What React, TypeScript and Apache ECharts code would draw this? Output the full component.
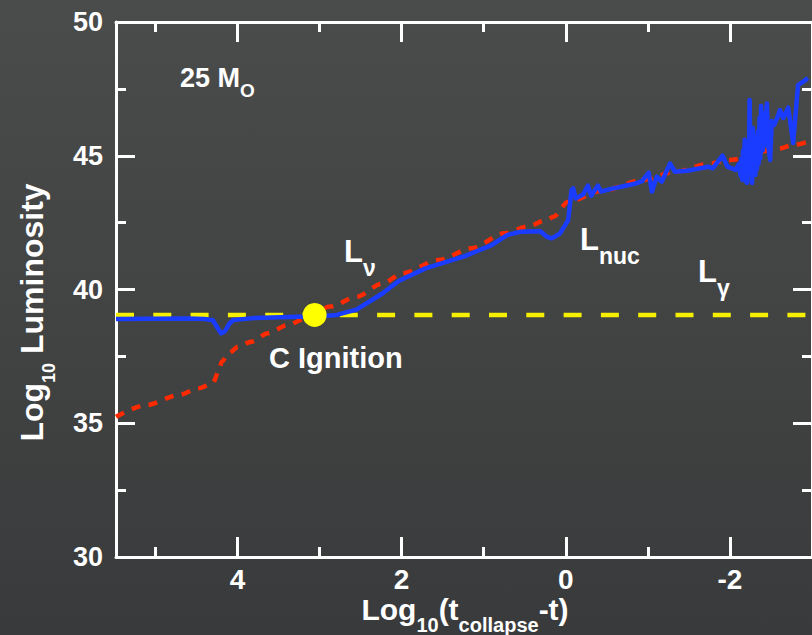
import React, { useEffect, useRef } from "react";
import * as echarts from "echarts";

// Axis ranges and tick positions (x axis runs backwards: time to collapse)
const xRange = [-3, 5.48];
const yRange = [30, 50];
const xMajorTicks = [4, 2, 0, -2];
const xMinorTicks = [5, 3, 1, -1];
const yInterval = 5;

// L_gamma: photon luminosity, flat
const gammaX = [5.48, -3.0];
const gammaY = [39.05, 39.05];

// L_nu: neutrino luminosity
const nuX = [5.48, 5.11, 4.71, 4.47, 4.3, 4.23, 4.19, 4.11, 3.99, 3.83, 3.63, 3.39, 3.19, 2.87, 2.55, 2.23, 1.99, 1.55, 1.15, 0.75, 0.47, 0.23, 0.15, -0.03, -0.43, -0.95, -1.33, -1.77, -1.99, -2.57, -2.77, -3.0];
const nuY = [35.24, 35.68, 36.06, 36.31, 36.5, 36.93, 37.3, 37.61, 37.86, 38.05, 38.36, 38.67, 38.89, 39.36, 39.73, 40.23, 40.61, 41.1, 41.54, 42.1, 42.35, 42.6, 42.72, 43.28, 43.68, 44.1, 44.4, 44.72, 44.84, 45.24, 45.4, 45.58];

// L_nuc: nuclear energy generation rate
const nucX = [5.48, 4.6, 4.4, 4.3, 4.25, 4.2, 4.15, 4.1, 4.05, 3.8, 3.27, 3.02, 2.79, 2.55, 2.23, 2.03, 1.71, 1.23, 0.91, 0.71, 0.55, 0.31, 0.23, 0.17, 0.07, -0.03, -0.07, -0.09, -0.12, -0.21, -0.27, -0.31, -0.39, -0.43, -0.55, -0.7, -0.85, -0.93, -1.01, -1.05, -1.11, -1.17, -1.27, -1.33, -1.5, -1.73, -1.79, -1.91, -1.97, -2.07, -2.11, -2.13, -2.14, -2.15, -2.16, -2.17, -2.18, -2.19, -2.2, -2.21, -2.22, -2.23, -2.24, -2.25, -2.26, -2.27, -2.28, -2.29, -2.3, -2.31, -2.32, -2.33, -2.34, -2.35, -2.36, -2.37, -2.38, -2.4, -2.42, -2.43, -2.45, -2.47, -2.49, -2.51, -2.54, -2.58, -2.61, -2.65, -2.71, -2.77, -2.83, -2.87, -2.95];
const nucY = [38.9, 38.92, 38.9, 38.85, 38.6, 38.36, 38.45, 38.72, 38.86, 38.93, 38.98, 38.99, 39.05, 39.25, 39.86, 40.33, 40.79, 41.25, 41.65, 42.04, 42.16, 42.18, 41.97, 41.91, 42.1, 42.6, 43.72, 43.78, 43.4, 43.55, 43.88, 43.5, 43.88, 43.66, 43.76, 43.86, 43.96, 44.05, 44.37, 43.66, 44.22, 44.03, 44.71, 44.4, 44.45, 44.59, 44.53, 45.0, 44.59, 44.47, 44.7, 44.25, 44.9, 44.1, 45.2, 44.3, 45.6, 44.05, 45.1, 43.98, 45.4, 44.4, 47.08, 44.5, 45.8, 43.98, 46.04, 44.6, 45.4, 44.28, 45.7, 44.5, 45.9, 44.7, 46.4, 44.9, 46.86, 45.2, 46.6, 45.4, 46.95, 45.3, 44.84, 46.3, 46.15, 46.45, 46.71, 46.41, 46.8, 45.48, 47.64, 47.72, 47.9];

// Carbon ignition marker
const ignitionX = [3.06];
const ignitionY = [39.05];

const pairs = (xs: number[], ys: number[]) => xs.map((x, i) => [x, ys[i]]);

const WHITE = "#ffffff";
const FONT = '"Liberation Sans", Arial, Helvetica, sans-serif';

const labelRich = {
  m: { fontSize: 31, fontWeight: "bold", fontFamily: FONT, fill: WHITE, lineHeight: 31, verticalAlign: "top" },
  s: { fontSize: 23, fontWeight: "bold", fontFamily: FONT, fill: WHITE, verticalAlign: "top", padding: [20, 0, 0, 0] },
};

const xNameRich = {
  m: { fontSize: 30, fontWeight: "bold", fontFamily: FONT, fill: WHITE, lineHeight: 30, verticalAlign: "top" },
  s: { fontSize: 20, fontWeight: "bold", fontFamily: FONT, fill: WHITE, verticalAlign: "top", padding: [21, 0, 0, 0] },
};

const yNameRich = {
  m: { fontSize: 32, fontWeight: "bold", fontFamily: FONT, fill: WHITE, lineHeight: 32, verticalAlign: "top" },
  s: { fontSize: 18, fontWeight: "bold", fontFamily: FONT, fill: WHITE, verticalAlign: "top", padding: [24, 0, 0, 0] },
};

const massRich = {
  m: { fontSize: 27, fontWeight: "bold", fontFamily: FONT, fill: WHITE, lineHeight: 27, verticalAlign: "top" },
  s: { fontSize: 19, fontWeight: "bold", fontFamily: FONT, fill: WHITE, verticalAlign: "top", padding: [17, 0, 0, 0] },
};

const axisLineStyle = { color: WHITE, width: 3 };

function xAxisDef(position: "top" | "bottom", ticks: number[], length: number, withLine: boolean, withLabels: boolean) {
  return {
    type: "value",
    position,
    min: xRange[0],
    max: xRange[1],
    inverse: true,
    splitLine: { show: false },
    axisLine: { show: withLine, onZero: false, lineStyle: axisLineStyle },
    axisTick: { show: true, inside: true, length, customValues: ticks, lineStyle: axisLineStyle },
    axisLabel: withLabels
      ? {
          show: true,
          customValues: ticks,
          margin: 13,
          lineHeight: 18,
          color: WHITE,
          fontSize: 28,
          fontWeight: "bold",
          fontFamily: FONT,
        }
      : { show: false },
  };
}

function yAxisDef(position: "left" | "right", withLabels: boolean) {
  return {
    type: "value",
    position,
    min: yRange[0],
    max: yRange[1],
    interval: yInterval,
    splitLine: { show: false },
    axisLine: { show: true, onZero: false, lineStyle: axisLineStyle },
    axisTick: { show: true, inside: true, length: 19, lineStyle: axisLineStyle },
    minorTick: { show: true, splitNumber: 2, length: 10, lineStyle: axisLineStyle },
    axisLabel: withLabels
      ? { show: true, margin: 13, color: WHITE, fontSize: 27, fontWeight: "bold", fontFamily: FONT }
      : { show: false },
  };
}

const option = {
  animation: false,
  backgroundColor: "transparent",
  grid: { left: 116, top: 22, width: 707, height: 535 },
  xAxis: [
    xAxisDef("bottom", xMajorTicks, 20, true, true),
    xAxisDef("bottom", xMinorTicks, 10, false, false),
    xAxisDef("top", xMajorTicks, 20, true, false),
    xAxisDef("top", xMinorTicks, 10, false, false),
  ],
  yAxis: [yAxisDef("left", true), yAxisDef("right", false)],
  series: [
    {
      name: "L_gamma",
      type: "line",
      data: pairs(gammaX, gammaY),
      showSymbol: false,
      silent: true,
      lineStyle: { color: "#f6f000", width: 4.5, type: [18, 19.3] },
      z: 2,
    },
    {
      name: "L_nu",
      type: "line",
      data: pairs(nuX, nuY),
      showSymbol: false,
      silent: true,
      smooth: 0.3,
      smoothMonotone: "x",
      lineStyle: { color: "#ff2a00", width: 4.5, type: [9, 8.5] },
      z: 3,
    },
    {
      name: "L_nuc",
      type: "line",
      data: pairs(nucX, nucY),
      showSymbol: false,
      silent: true,
      lineStyle: { color: "#1a3cff", width: 4.5, join: "round" },
      z: 4,
    },
    {
      name: "C ignition",
      type: "scatter",
      data: pairs(ignitionX, ignitionY),
      symbol: "circle",
      symbolSize: 24,
      silent: true,
      itemStyle: { color: "#ffff00", opacity: 1 },
      z: 5,
    },
  ],
  graphic: [
    {
      type: "text",
      x: 465,
      y: 594,
      style: { text: "{m|Log}{s|10}{m|(t}{s|collapse}{m|-t)}", align: "center", verticalAlign: "top", rich: xNameRich },
    },
    {
      type: "text",
      x: 36.5,
      y: 312.5,
      rotation: Math.PI / 2,
      style: { text: "{m|Log}{s|10}{m| Luminosity}", align: "center", verticalAlign: "middle", rich: yNameRich },
    },
    {
      type: "text",
      x: 180,
      y: 64,
      style: { text: "{m|25 M}{s|O}", align: "left", verticalAlign: "top", rich: massRich },
    },
    {
      type: "text",
      x: 344,
      y: 236,
      style: { text: "{m|L}{s|ν}", align: "left", verticalAlign: "top", rich: labelRich },
    },
    {
      type: "text",
      x: 580,
      y: 224,
      style: { text: "{m|L}{s|nuc}", align: "left", verticalAlign: "top", rich: labelRich },
    },
    {
      type: "text",
      x: 698,
      y: 256,
      style: { text: "{m|L}{s|γ}", align: "left", verticalAlign: "top", rich: labelRich },
    },
    {
      type: "text",
      x: 269,
      y: 343,
      style: {
        text: "C Ignition",
        fill: WHITE,
        fontSize: 29,
        fontWeight: "bold",
        fontFamily: FONT,
        lineHeight: 29,
        align: "left",
        verticalAlign: "top",
      },
    },
  ],
};

export default function App() {
  const ref = useRef<HTMLDivElement>(null);
  useEffect(() => {
    if (!ref.current) return;
    const chart = echarts.init(ref.current, undefined, { renderer: "svg" });
    chart.setOption(option as any);
    return () => chart.dispose();
  }, []);
  return (
    <div
      style={{
        position: "fixed",
        left: 0,
        top: 0,
        width: 812,
        height: 635,
        overflow: "hidden",
        background: "linear-gradient(180deg, #4a4c4c 0%, #414343 55%, #393a3b 100%)",
      }}
    >
      <div ref={ref} style={{ width: 812, height: 635 }} />
    </div>
  );
}
